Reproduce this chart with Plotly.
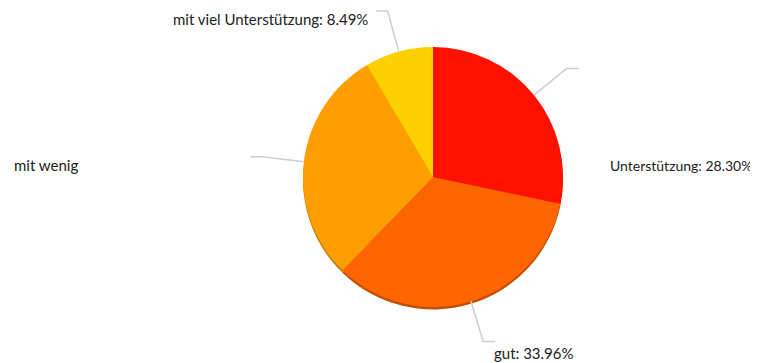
import numpy as np
import plotly.graph_objects as go

labels = ["Unterstützung: 28.30%", "gut: 33.96%", "mit wenig", "mit viel Unterstützung: 8.49%"]
values = [28.30, 33.96, 29.25, 8.49]
colors = ["#FF1100", "#FF6600", "#FF9E00", "#FDD100"]
shadow_colors = ["#C80D00", "#C44E00", "#C47A00", "#C4A000"]

W, H = 758, 363
OFF = 8  # page body offset
CX, CY, R = 433 - OFF, 177 - OFF, 130

fig = go.Figure()

def dom(dy=0):
    return dict(x=[(CX - R) / W, (CX + R) / W],
                y=[(H - (CY + dy) - R) / H, (H - (CY + dy) + R) / H])

fig.add_trace(go.Pie(values=values, labels=labels, sort=False, direction="clockwise",
                     rotation=0, marker=dict(colors=shadow_colors, line=dict(width=0)),
                     textinfo="none", hoverinfo="skip", showlegend=False, domain=dom(2.5)))
fig.add_trace(go.Pie(values=values, labels=labels, sort=False, direction="clockwise",
                     rotation=0, marker=dict(colors=colors, line=dict(width=0)),
                     textinfo="none", hoverinfo="label", showlegend=False, domain=dom(0)))

# leader lines computed from slice mid-angles
vals = np.array(values)
cum = np.cumsum(vals) - vals / 2
ang = cum / vals.sum() * 2 * np.pi
shapes = []
for a in ang:
    sx, sy = CX + R * np.sin(a), CY - R * np.cos(a)
    ex, ey = CX + 172 * np.sin(a), CY - 172 * np.cos(a)
    hx = ex + (12 if np.sin(a) > 0 else -12)
    path = f"M {sx/W},{1-sy/H} L {ex/W},{1-ey/H} L {hx/W},{1-ey/H}"
    shapes.append(dict(type="path", path=path, xref="paper", yref="paper",
                       line=dict(color="#CFCFCF", width=1.5)))

def font(sz):
    return dict(family="Lato, sans-serif", size=sz, color="#222222")

anns = [
    dict(text=labels[0], x=(754 - OFF) / W, y=1 - (165 - OFF) / H, xanchor="right", yanchor="middle", font=font(14)),
    dict(text=labels[1], x=(492 - OFF) / W, y=1 - (353 - OFF) / H, xanchor="left", yanchor="middle", font=font(15)),
    dict(text=labels[2], x=(12 - OFF) / W, y=1 - (165 - OFF) / H, xanchor="left", yanchor="middle", font=font(15)),
    dict(text=labels[3], x=(370 - OFF) / W, y=1 - (19 - OFF) / H, xanchor="right", yanchor="middle", font=font(15)),
]
for a in anns:
    a.update(xref="paper", yref="paper", showarrow=False)

fig.update_layout(width=W, height=H, margin=dict(l=0, r=0, t=0, b=0),
                  paper_bgcolor="white", plot_bgcolor="white",
                  shapes=shapes, annotations=anns)
fig.write_html("out.html")
